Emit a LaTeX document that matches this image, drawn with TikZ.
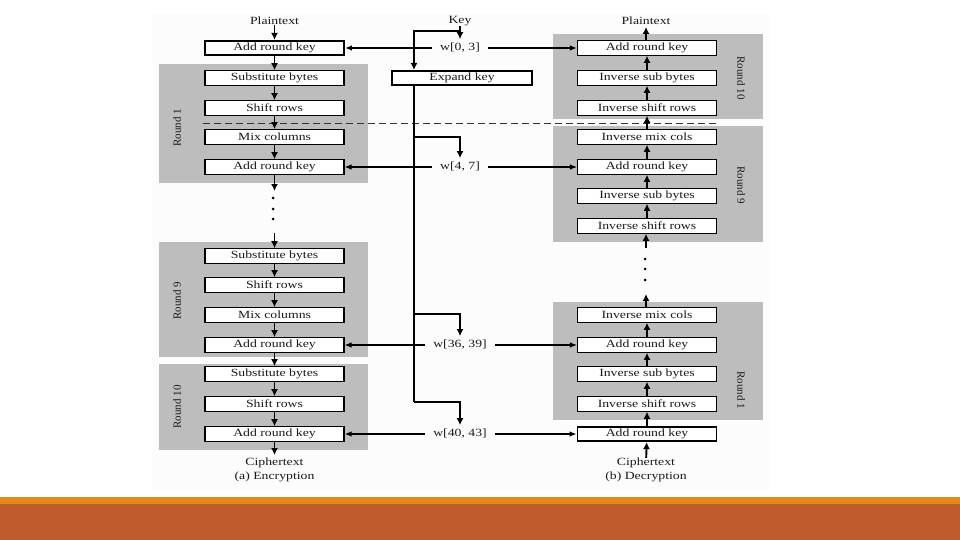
\documentclass[tikz,border=0pt]{standalone}
\usepackage{fontspec}
\setmainfont[FakeStretch=1.25]{Liberation Serif}
\newfontfamily\plainserif{Liberation Serif}
\usetikzlibrary{arrows.meta}
\definecolor{panelgray}{HTML}{BDBDBD}
\definecolor{txt}{HTML}{1A1A1A}
\definecolor{stripcol}{HTML}{E38A1C}
\definecolor{bandcol}{HTML}{BE5A2B}
\definecolor{sheet}{HTML}{FDFCFD}
\tikzset{
  blk/.style={draw=black, fill=white, line width=1.1pt, minimum width=139pt, minimum height=14.5pt, inner sep=0pt, text=txt, font=\fontsize{11}{12}\selectfont},
  thickblk/.style={blk, line width=1.8pt},
  panel/.style={fill=panelgray, draw=none},
  flow/.style={-{Latex[length=7pt,width=7pt]}, line width=1.9pt},
  keyarr/.style={-{Latex[length=7pt,width=5.5pt]}, line width=1.1pt},
  trunk/.style={line width=2pt},
  lbl/.style={text=txt, font=\fontsize{11}{12}\selectfont, inner sep=0pt},
  wlbl/.style={text=txt, font=\fontsize{11}{12}\selectfont, inner xsep=8pt, inner ysep=4pt},
  rlbl/.style={text=txt, font=\plainserif\fontsize{11}{12}\selectfont, inner sep=0pt},
  dot/.style={fill=black, circle, inner sep=0pt, minimum size=3pt}
}
\begin{document}
\begin{tikzpicture}[x=1pt,y=-1pt]
\useasboundingbox (0,0) rectangle (960,540);
\fill[white] (0,0) rectangle (960,540);
\fill[sheet] (152,14) rectangle (770,490);
\fill[stripcol] (0,497) rectangle (960,504);
\fill[bandcol] (0,504) rectangle (960,540);

% panels
\fill[panel] (159,64) rectangle (368,183);
\fill[panel] (159,242) rectangle (368,357);
\fill[panel] (159,364) rectangle (368,450);
\fill[panel] (553,34) rectangle (763,119);
\fill[panel] (553,126) rectangle (763,242);
\fill[panel] (553,302) rectangle (763,420);

% round labels
\node[rlbl, rotate=90] (rl1) at (177,128) {Round 1};
\node[rlbl, rotate=90] (rl9) at (177,301) {Round 9};
\node[rlbl, rotate=90] (rl10) at (177,407) {Round 10};
\node[rlbl, rotate=-90] (rr10) at (741,78) {Round 10};
\node[rlbl, rotate=-90] (rr9) at (741,185) {Round 9};
\node[rlbl, rotate=-90] (rr1) at (741,390) {Round 1};

% dashed line
\coordinate (dashL) at (203,124);
\coordinate (dashR) at (717,124);
\draw[dashed, dash pattern=on 7pt off 4pt, line width=1pt, black!80] (dashL) -- (dashR);

% encryption column
\node[lbl] (ptE) at (274.5,21) {Plaintext};
\node[thickblk] (e0) at (274.5,48) {Add round key};
\node[blk] (e1s) at (274.5,78) {Substitute bytes};
\node[blk] (e1r) at (274.5,108) {Shift rows};
\node[blk] (e1m) at (274.5,137) {Mix columns};
\node[blk] (e1a) at (274.5,167) {Add round key};
\node[blk] (e9s) at (274.5,256) {Substitute bytes};
\node[blk] (e9r) at (274.5,285) {Shift rows};
\node[blk] (e9m) at (274.5,315) {Mix columns};
\node[blk] (e9a) at (274.5,345) {Add round key};
\node[blk] (e10s) at (274.5,374) {Substitute bytes};
\node[blk] (e10r) at (274.5,404) {Shift rows};
\node[blk] (e10a) at (274.5,434) {Add round key};
\node[lbl] (ctE) at (274.5,463) {Ciphertext};
\node[lbl] (capE) at (274.5,477) {(a) Encryption};

\coordinate (eOut1) at (274.5,191);
\coordinate (eIn9) at (274.5,233);
\coordinate (eOut) at (274.5,455);
\node[dot] (ed1) at (273,198) {};
\node[dot] (ed2) at (273,209) {};
\node[dot] (ed3) at (273,219) {};

\draw[flow] (ptE) -- (e0);
\draw[flow] (e0) -- (e1s);
\draw[flow] (e1s) -- (e1r);
\draw[flow] (e1r) -- (e1m);
\draw[flow] (e1m) -- (e1a);
\draw[flow] (e1a) -- (eOut1);
\draw[flow] (eIn9) -- (e9s);
\draw[flow] (e9s) -- (e9r);
\draw[flow] (e9r) -- (e9m);
\draw[flow] (e9m) -- (e9a);
\draw[flow] (e9a) -- (e10s);
\draw[flow] (e10s) -- (e10r);
\draw[flow] (e10r) -- (e10a);
\draw[flow] (e10a) -- (eOut);

% decryption column
\node[lbl] (ptD) at (646,21) {Plaintext};
\node[blk] (d10a) at (647,48) {Add round key};
\node[blk] (d10s) at (647,78) {Inverse sub bytes};
\node[blk] (d10r) at (647,108) {Inverse shift rows};
\node[blk] (d9m) at (647,137) {Inverse mix cols};
\node[blk] (d9a) at (647,167) {Add round key};
\node[blk] (d9s) at (647,196) {Inverse sub bytes};
\node[blk] (d9r) at (647,226) {Inverse shift rows};
\node[blk] (d1m) at (647,315) {Inverse mix cols};
\node[blk] (d1a) at (647,345) {Add round key};
\node[blk] (d1s) at (647,374) {Inverse sub bytes};
\node[blk] (d1r) at (647,404) {Inverse shift rows};
\node[thickblk] (d0) at (647,434) {Add round key};
\node[lbl] (ctD) at (646,463) {Ciphertext};
\node[lbl] (capD) at (646,477) {(b) Decryption};

\coordinate (dTop) at (646,27);
\coordinate (dIn9) at (646,248);
\coordinate (dOut1) at (646,294);
\node[dot] (dd1) at (645,259) {};
\node[dot] (dd2) at (645,269) {};
\node[dot] (dd3) at (645,280) {};

\draw[flow] (d10a.north -| dTop) -- (dTop);
\draw[flow] (d10s) -- (d10a);
\draw[flow] (d10r) -- (d10s);
\draw[flow] (d9m) -- (d10r);
\draw[flow] (d9a) -- (d9m);
\draw[flow] (d9s) -- (d9a);
\draw[flow] (d9r) -- (d9s);
\draw[flow] (dIn9) -- (d9r.south -| dIn9);
\draw[flow] (d1m.north -| dOut1) -- (dOut1);
\draw[flow] (d1a) -- (d1m);
\draw[flow] (d1s) -- (d1a);
\draw[flow] (d1r) -- (d1s);
\draw[flow] (d0) -- (d1r);
\draw[flow] (ctD) -- (d0);

% key schedule
\node[lbl] (key) at (460,21) {Key};
\node[thickblk, minimum width=140pt, line width=1.6pt] (expand) at (462,78) {Expand key};
\node[wlbl] (w03) at (460,48) {w[0, 3]};
\node[wlbl] (w47) at (460,167) {w[4, 7]};
\node[wlbl] (w3639) at (460,345) {w[36, 39]};
\node[wlbl] (w4043) at (460,434) {w[40, 43]};

\coordinate (kb) at (414,31);
\coordinate (kr) at (460,31);
\coordinate (b1) at (414,137);
\coordinate (b9) at (414,314);
\coordinate (b10) at (414,402);

\draw[flow] (key) -- (w03);
\draw[trunk, -{Latex[length=7pt,width=7pt]}] (kr) -- (kb) -- (kb |- expand.north);
\draw[trunk] (kb |- expand.south) -- (b10);
\draw[trunk, -{Latex[length=7pt,width=7pt]}] (b10) -| (w4043.north);
\draw[trunk, -{Latex[length=7pt,width=7pt]}] (b1) -| (w47.north);
\draw[trunk, -{Latex[length=7pt,width=7pt]}] (b9) -| (w3639.north);

\draw[keyarr, line width=1.6pt] (w03) -- (e0);
\draw[keyarr, line width=1.6pt] (w03) -- (d10a);
\draw[keyarr] (w47) -- (e1a);
\draw[keyarr] (w47) -- (d9a);
\draw[keyarr] (w3639) -- (e9a);
\draw[keyarr] (w3639) -- (d1a);
\draw[keyarr, line width=1.6pt] (w4043) -- (e10a);
\draw[keyarr, line width=1.6pt] (w4043) -- (d0);
\end{tikzpicture}
\end{document}
